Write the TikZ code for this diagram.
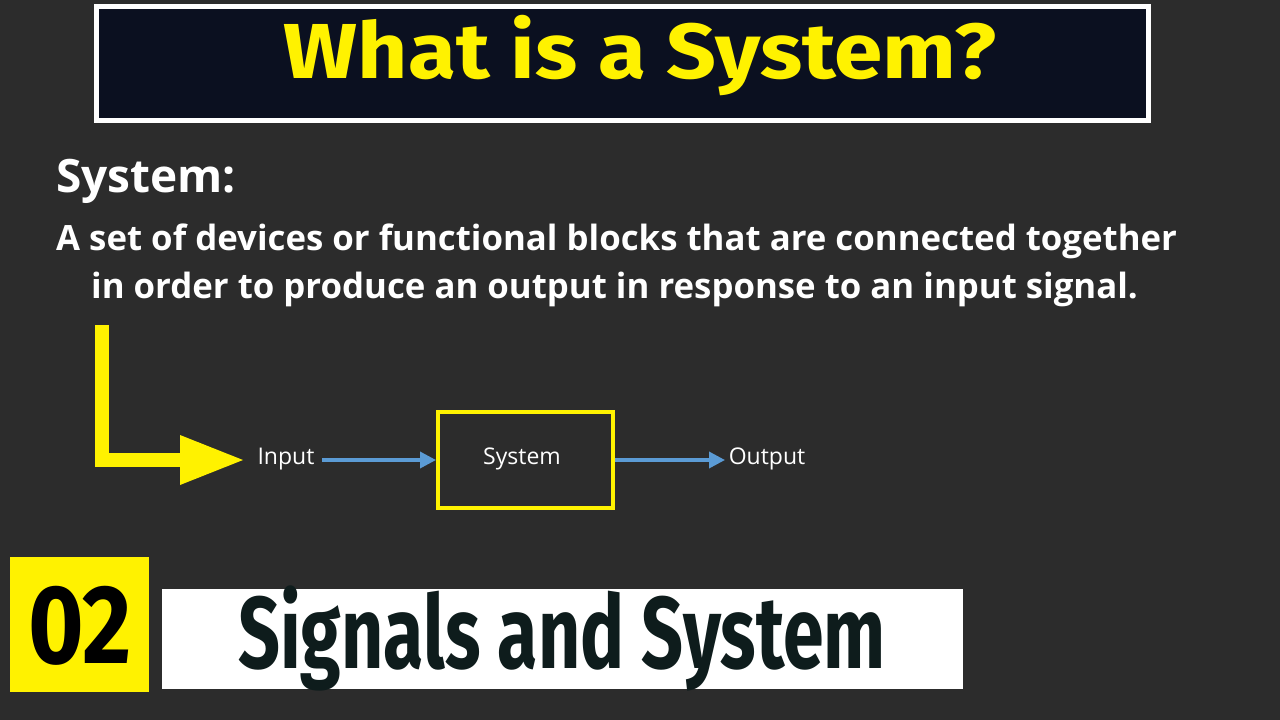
\documentclass[tikz,border=0pt]{standalone}
\usepackage{fontspec}
\setmainfont{Open Sans}
\newfontfamily\titlefont[FakeStretch=1.12]{Fira Sans}
\newfontfamily\condfont[FakeStretch=0.72]{Fira Sans}
\newfontfamily\numfont[FakeStretch=0.85]{Fira Sans}
\usetikzlibrary{arrows.meta}
\definecolor{bg}{HTML}{2C2C2C}
\definecolor{navy}{HTML}{0B1020}
\definecolor{ylw}{HTML}{FFF200}
\definecolor{blu}{HTML}{5B9BD5}
\definecolor{dk}{HTML}{0E1C1C}
\begin{document}
\begin{tikzpicture}[x=1pt,y=-1pt,
  txt/.style={text=white,inner sep=0pt},
  flow/.style={draw=blu,line width=3.5pt,-{Triangle[length=16pt,width=16pt]}}]
\useasboundingbox (0,0) rectangle (1280,720);
\fill[bg] (0,0) rectangle (1280,720);
% title
\node[draw=white,line width=5pt,fill=navy,minimum width=1052pt,minimum height=114pt,inner sep=0pt] (title) at (622.5,63.5) {};
\node[text=ylw,font=\titlefont\bfseries\fontsize{78}{84}\selectfont] (tt) at (640,56) {What is a System?};
% definition
\node[txt,anchor=base west,font=\bfseries\fontsize{46}{50}\selectfont] (sys) at (56,192) {System:};
\node[txt,anchor=base west,font=\bfseries\fontsize{34.8}{38}\selectfont] (l1) at (56,250) {A set of devices or functional blocks that are connected together};
\node[txt,anchor=base west,font=\bfseries\fontsize{34.8}{38}\selectfont] (l2) at (91,298) {in order to produce an output in response to an input signal.};
% diagram
\node[txt,font=\fontsize{23}{26}\selectfont] (in) at (286,459) {Input};
\node[draw=ylw,line width=4pt,minimum width=175pt,minimum height=96pt,inner sep=0pt] (box) at (525.5,460) {};
\node[txt,font=\fontsize{23}{26}\selectfont] (st) at (522,459) {System};
\node[txt,font=\fontsize{23}{26}\selectfont] (out) at (767,459) {Output};
\draw[flow] (322,460) -- (box.west);
\draw[flow] (box.east) -- (725,460);
\coordinate (ls) at (102,325);
\coordinate (lc) at (102,460);
\coordinate (le) at (243,460);
\draw[ylw,line width=14pt] (ls) -- (lc) -- (182,460);
\fill[ylw] (180,435) -- (le) -- (180,485) -- cycle;
% bottom
\node[fill=ylw,minimum width=139pt,minimum height=135pt,inner sep=0pt] (num) at (79.5,624.5) {};
\node[text=black,font=\numfont\bfseries\fontsize{112}{112}\selectfont] (nt) at (80,626) {02};
\node[fill=white,minimum width=801pt,minimum height=100pt,inner sep=0pt] (band) at (562.5,639) {};
\node[text=dk,font=\condfont\bfseries\fontsize{102}{102}\selectfont] (bt) at (562,638) {Signals and System};
\end{tikzpicture}
\end{document}
